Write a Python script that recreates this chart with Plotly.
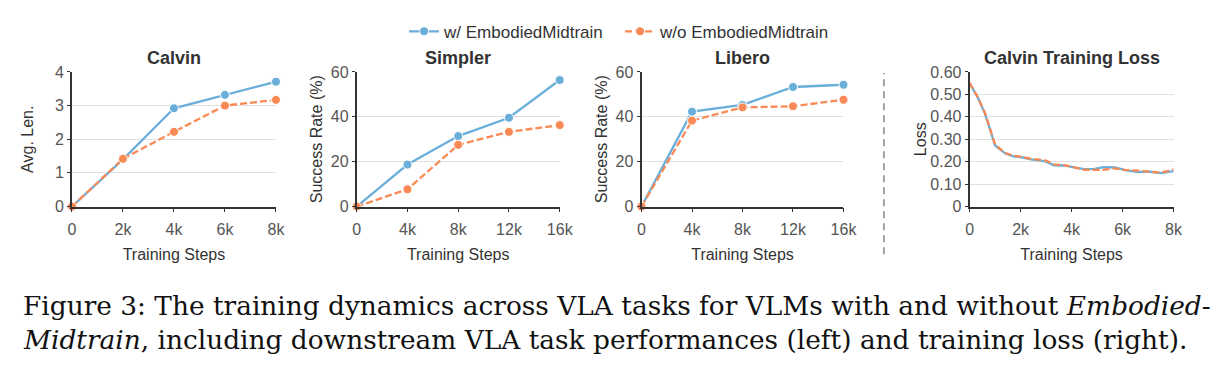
import plotly.graph_objects as go

W, H = 1226, 373

# ---------------- data ----------------
series_names = ["w/ EmbodiedMidtrain", "w/o EmbodiedMidtrain"]

calvin_steps = [0, 2000, 4000, 6000, 8000]
calvin_with = [0, 1.40, 2.92, 3.32, 3.71]
calvin_without = [0, 1.42, 2.22, 3.00, 3.17]

simpler_steps = [0, 4000, 8000, 12000, 16000]
simpler_with = [0, 18.7, 31.4, 39.6, 56.4]
simpler_without = [0, 7.7, 27.5, 33.3, 36.3]

libero_steps = [0, 4000, 8000, 12000, 16000]
libero_with = [0, 42.3, 45.3, 53.3, 54.3]
libero_without = [0, 38.3, 44.2, 44.7, 47.6]

loss_steps = [0, 300, 600, 1000, 1400, 1750, 2050, 2400, 2800, 3000, 3300,
              3700, 4100, 4500, 4900, 5250, 5700, 6100, 6600, 7000, 7500, 8000]
loss_with = [0.550, 0.490, 0.415, 0.272, 0.236, 0.223, 0.219, 0.210, 0.205,
             0.200, 0.184, 0.183, 0.175, 0.167, 0.168, 0.176, 0.174, 0.162,
             0.153, 0.156, 0.149, 0.158]
loss_without = [0.552, 0.492, 0.418, 0.276, 0.238, 0.226, 0.221, 0.213, 0.208,
                0.205, 0.188, 0.185, 0.175, 0.164, 0.163, 0.164, 0.170, 0.163,
                0.160, 0.157, 0.151, 0.165]

steps8k_ticks = [0, 2000, 4000, 6000, 8000]
steps8k_labels = ["0", "2k", "4k", "6k", "8k"]
steps16k_ticks = [0, 4000, 8000, 12000, 16000]
steps16k_labels = ["0", "4k", "8k", "12k", "16k"]

calvin_yticks = [0, 1, 2, 3, 4]
rate_yticks = [0, 20, 40, 60]
loss_yticks = [0, 0.1, 0.2, 0.3, 0.4, 0.5, 0.6]
loss_ylabels = ["0", "0.10", "0.20", "0.30", "0.40", "0.50", "0.60"]

panel_titles = ["Calvin", "Simpler", "Libero", "Calvin Training Loss"]
y_titles = ["Avg. Len.", "Success Rate (%)", "Success Rate (%)", "Loss"]
x_title = "Training Steps"

# ---------------- style ----------------
BLUE = "#6AAFDA"
ORANGE = "#FA8A55"
FONT = "Liberation Sans"
TICK_C = "#555555"
DARK = "#333333"


def px_x(p):
    return p / W


def px_y(p):
    return 1 - p / H


x_domains = [(69, 276), (358, 564), (647, 852), (980, 1187)]
y_dom = [px_y(208), px_y(67)]
y_standoffs = [17, 4, 4, 0]

fig = go.Figure()

panels = [
    (calvin_steps, calvin_with, calvin_without, True),
    (simpler_steps, simpler_with, simpler_without, True),
    (libero_steps, libero_with, libero_without, True),
    (loss_steps, loss_with, loss_without, False),
]

for i, (xs, yw, yo, markers) in enumerate(panels):
    ax = "" if i == 0 else str(i + 1)
    mode = "lines+markers" if markers else "lines"
    fig.add_trace(go.Scatter(
        x=xs, y=yw, mode=mode, name=series_names[0],
        line=dict(color=BLUE, width=2.3),
        marker=dict(size=9, color=BLUE, line=dict(color="white", width=1)),
        xaxis="x" + ax, yaxis="y" + ax, cliponaxis=False,
        showlegend=(i == 0), legendgroup="a"))
    fig.add_trace(go.Scatter(
        x=xs, y=yo, mode=mode, name=series_names[1],
        line=dict(color=ORANGE, width=2.3, dash="7px,3px"),
        marker=dict(size=9, color=ORANGE, line=dict(color="white", width=1)),
        xaxis="x" + ax, yaxis="y" + ax, cliponaxis=False,
        showlegend=(i == 0), legendgroup="b"))

axis_specs = [
    ([0, 8000], steps8k_ticks, steps8k_labels, [0, 4], calvin_yticks,
     [str(v) for v in calvin_yticks]),
    ([0, 16000], steps16k_ticks, steps16k_labels, [0, 60], rate_yticks,
     [str(v) for v in rate_yticks]),
    ([0, 16000], steps16k_ticks, steps16k_labels, [0, 60], rate_yticks,
     [str(v) for v in rate_yticks]),
    ([0, 8000], steps8k_ticks, steps8k_labels, [0, 0.6], loss_yticks,
     loss_ylabels),
]

layout = {}
for i, (xr, xt, xl, yr, yt, yl) in enumerate(axis_specs):
    ax = "" if i == 0 else str(i + 1)
    d = x_domains[i]
    layout["xaxis" + ax] = dict(
        domain=[px_x(d[0]), px_x(d[1])], range=xr, anchor="y" + ax,
        tickvals=xt, ticktext=xl, showgrid=False, zeroline=False,
        showline=True, linecolor=DARK, linewidth=1.8,
        ticks="outside", ticklen=4, tickcolor=DARK, tickwidth=1.2,
        ticklabelstandoff=3,
        tickfont=dict(family=FONT, size=16, color=TICK_C),
        title=dict(text=x_title, font=dict(family=FONT, size=16, color=DARK),
                   standoff=12),
        fixedrange=True)
    layout["yaxis" + ax] = dict(
        domain=y_dom, range=yr, anchor="x" + ax,
        tickvals=yt, ticktext=yl, showgrid=True, gridcolor="#E0E0E0",
        gridwidth=1, zeroline=False,
        showline=True, linecolor=DARK, linewidth=1.8,
        ticks="outside", ticklen=3, tickcolor=DARK, tickwidth=1.2,
        tickfont=dict(family=FONT, size=16, color=TICK_C),
        title=dict(text=y_titles[i], font=dict(family=FONT, size=16, color=DARK),
                   standoff=y_standoffs[i]),
        fixedrange=True)

annotations = []
for i, t in enumerate(panel_titles):
    d = x_domains[i]
    annotations.append(dict(
        text="<b>" + t + "</b>", x=px_x((d[0] + d[1]) / 2), y=px_y(52),
        xref="paper", yref="paper", xanchor="center", yanchor="middle",
        showarrow=False, font=dict(family=FONT, size=18, color=DARK)))

caption1 = ("Figure 3: The training dynamics across VLA tasks for VLMs with "
            "and without <i>Embodied-</i>")
caption2 = ("<i>Midtrain</i>, including downstream VLA task performances "
            "(left) and training loss (right).")
for txt, yc in [(caption1, 312), (caption2, 347)]:
    annotations.append(dict(
        text=txt, x=px_x(17), y=px_y(yc), xref="paper", yref="paper",
        xanchor="left", yanchor="middle", showarrow=False,
        font=dict(family="DejaVu Serif", size=26.4, color="#111111")))

shapes = [dict(type="line", xref="paper", yref="paper",
               x0=px_x(893), x1=px_x(893), y0=px_y(258), y1=px_y(68),
               line=dict(color="#999999", width=1.8, dash="7px,5px"))]

fig.update_layout(
    width=W, height=H, margin=dict(l=0, r=0, t=0, b=0),
    paper_bgcolor="white", plot_bgcolor="white",
    showlegend=True,
    legend=dict(orientation="h", x=px_x(406), y=px_y(6), xanchor="left",
                yanchor="top", font=dict(family=FONT, size=17, color=DARK),
                entrywidth=171, bgcolor="rgba(0,0,0,0)", tracegroupgap=0),
    annotations=annotations, shapes=shapes,
    **layout)

fig.write_html("out.html")
